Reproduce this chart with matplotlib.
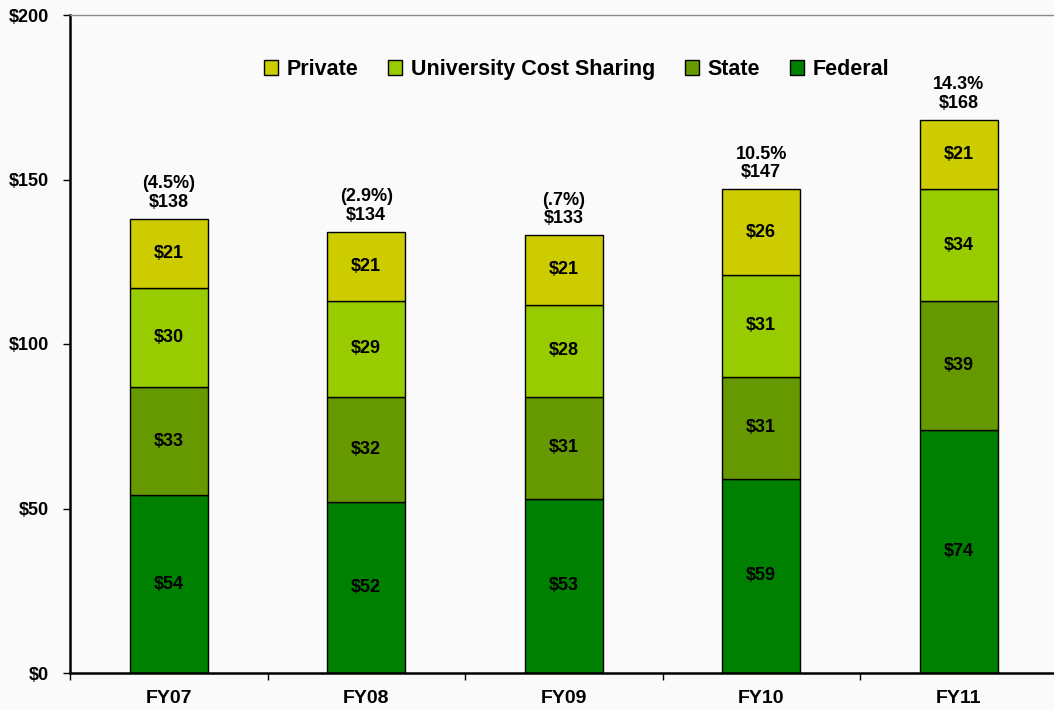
import matplotlib
matplotlib.use("Agg")
import matplotlib.pyplot as plt
import numpy as np

categories = ["FY07", "FY08", "FY09", "FY10", "FY11"]
federal = [54, 52, 53, 59, 74]
state = [33, 32, 31, 31, 39]
ucs = [30, 29, 28, 31, 34]
private = [21, 21, 21, 26, 21]
totals = [138, 134, 133, 147, 168]
changes = ["(4.5%)", "(2.9%)", "(.7%)", "10.5%", "14.3%"]
series_names = ["Federal", "State", "University Cost Sharing", "Private"]
colors = ["#008000", "#669900", "#99CC00", "#CCCC00"]

plt.rcParams['font.family'] = ['Liberation Sans', 'DejaVu Sans']
plt.rcParams['font.weight'] = 'bold'

fig = plt.figure(figsize=(10.54, 7.09), dpi=100, facecolor="#fafafa")
ax = fig.add_axes([70/1054, 1-673/709, 987.5/1054, (673-15)/709])
ax.set_facecolor("#fafafa")

x = np.arange(len(categories))
width = 0.395
bottom = np.zeros(len(categories))
handles = []
for name, vals, c in zip(series_names, [federal, state, ucs, private], colors):
    bars = ax.bar(x, vals, width, bottom=bottom, color=c, edgecolor="black", linewidth=1.0, label=name)
    handles.append(bars)
    for xi, b, v in zip(x, bottom, vals):
        ax.text(xi, b + v/2, f"${v}", ha="center", va="center", fontsize=13, fontweight="bold")
    bottom += np.array(vals)

for xi, t, ch in zip(x, totals, changes):
    ax.text(xi, t + 2.5, f"{ch}\n${t}", ha="center", va="bottom", fontsize=13,
            fontweight="bold", linespacing=1.12)

ax.set_ylim(0, 200)
ax.set_xlim(-0.5, 4.5)
ax.set_yticks([0, 50, 100, 150, 200])
ax.set_yticklabels(["$0", "$50", "$100", "$150", "$200"], fontsize=13, fontweight="bold")
ax.set_xticks(x)
ax.set_xticklabels(categories, fontsize=14, fontweight="bold")
ax.set_xticks(np.arange(-0.5, 5.0, 1.0), minor=True)
ax.tick_params(axis="x", which="major", length=0, pad=12)
ax.tick_params(axis="x", which="minor", length=5, width=1, direction="out")
ax.tick_params(axis="y", length=5, width=1, direction="out", pad=10)

ax.spines["left"].set_linewidth(1.8)
ax.spines["bottom"].set_linewidth(1.8)
ax.spines["top"].set_color("#888888")
ax.spines["top"].set_linewidth(1.0)
ax.spines["right"].set_visible(False)

leg_handles = [handles[3], handles[2], handles[1], handles[0]]
leg_labels = ["Private", "University Cost Sharing", "State", "Federal"]
ax.legend(leg_handles, leg_labels, loc="center", bbox_to_anchor=(0.513, 0.917), ncol=4,
          frameon=False, prop={"weight": "bold", "size": 15.5},
          handlelength=0.65, handleheight=0.65, handletextpad=0.4, columnspacing=1.4)

fig.savefig("out.png", dpi=100, facecolor=fig.get_facecolor())
